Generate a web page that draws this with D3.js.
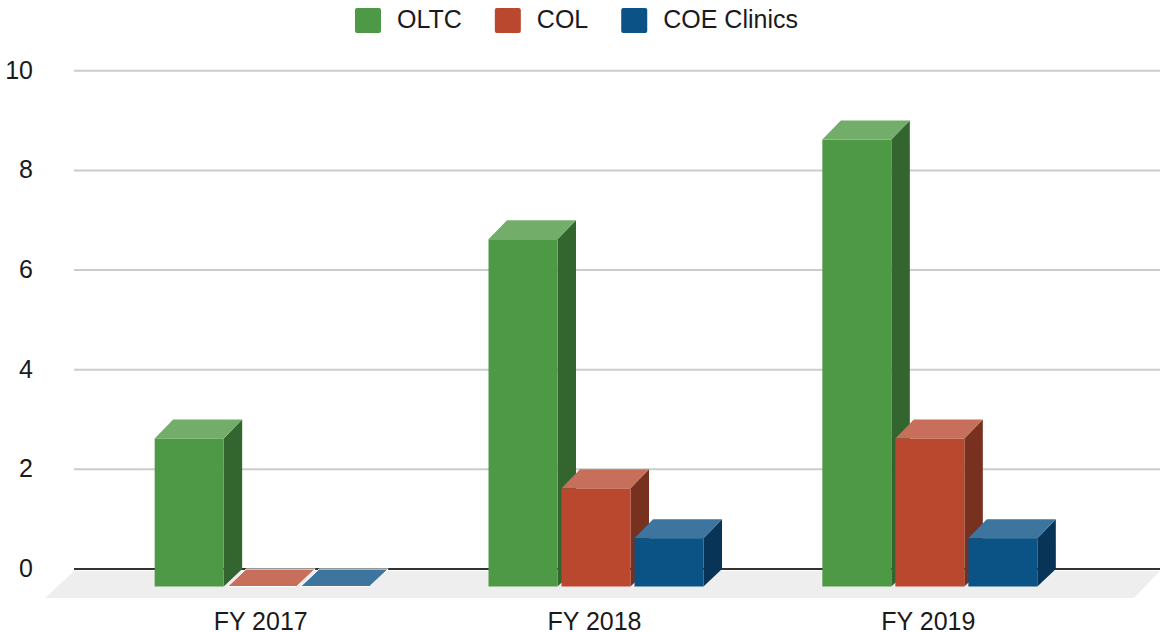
<!DOCTYPE html>
<html>
<head>
<meta charset="utf-8">
<script src="https://cdn.jsdelivr.net/npm/d3@7"></script>
<style>
html, body { margin: 0; padding: 0; background: #fff; }
text { font-family: "Liberation Sans", Arial, sans-serif; font-size: 25px; fill: #1a1a1a; }
</style>
</head>
<body>
<div id="chart"></div>
<script>
var categories = ["FY 2017", "FY 2018", "FY 2019"];
var seriesNames = ["OLTC", "COL", "COE Clinics"];
var oltcValues = [3, 7, 9];
var colValues = [0, 2, 3];
var coeValues = [0, 1, 1];
var yTicks = [0, 2, 4, 6, 8, 10];

var width = 1160,
    height = 632;

var seriesValues = [oltcValues, colValues, coeValues];

// front, top and side face of each series
var frontColors = ["#4e9946", "#b9482f", "#0b5285"];
var topColors = ["#72ae6a", "#c76f5a", "#3e759f"];
var sideColors = ["#32662e", "#78301f", "#083457"];

var svg = d3.select("#chart").append("svg")
    .attr("width", width)
    .attr("height", height)
    .style("display", "block");

// Domain Scale
var yScale = d3.scaleLinear()
    .domain([0, 10])
    .range([569, 70.8]);

var xScale = d3.scaleBand()
    .domain(categories)
    .range([95.25, 1096.75]);

var barGroupWidth = 215;

var xSub = d3.scaleBand()
    .domain(seriesNames)
    .range([0, barGroupWidth])
    .paddingInner(4 / 73);

// 3d offsets
var depthX = 18.5,
    depthY = 19,
    baseY = yScale(0) + 17.5;

// floor under the bars
svg.append("polygon")
    .attr("points", [[74, 571], [1160, 571], [1134, 598], [45, 598]].join(" "))
    .attr("fill", "#eeeeee");

// y axis and gridlines
var yAxis = d3.axisLeft(yScale)
    .tickValues(yTicks)
    .tickSize(-1086)
    .tickPadding(41)
    .offset(0);

var yAxisGroup = svg.append("g")
    .attr("transform", "translate(74,0)")
    .call(yAxis);

yAxisGroup.select(".domain").remove();
yAxisGroup.selectAll(".tick line")
    .attr("stroke", function (d) { return d === 0 ? "#333333" : "#cccccc"; })
    .attr("stroke-width", 2);
yAxisGroup.selectAll(".tick text")
    .style("font-size", "25px")
    .style("font-family", '"Liberation Sans", Arial, sans-serif');

// x axis labels
var xAxis = d3.axisBottom(xScale)
    .tickSize(0)
    .tickPadding(14)
    .offset(0);

var xAxisGroup = svg.append("g")
    .attr("transform", "translate(-1.5,598)")
    .call(xAxis);

xAxisGroup.select(".domain").remove();
xAxisGroup.selectAll(".tick text")
    .style("font-size", "25px")
    .style("font-family", '"Liberation Sans", Arial, sans-serif');

// bars, drawn left to right so the next front covers the last side
var polyLine = d3.line();

categories.forEach(function (cat, c) {
    var groupX = xScale(cat) + (xScale.bandwidth() - barGroupWidth) / 2;

    seriesNames.forEach(function (name, s) {
        var v = seriesValues[s][c];
        var x0 = groupX + xSub(name),
            x1 = x0 + xSub.bandwidth(),
            backTop = yScale(v),
            frontTop = Math.min(backTop + depthY, baseY);

        var bar = svg.append("g").attr("class", "bar");

        if (v > 0) {
            bar.append("path")
                .attr("d", polyLine([[x1, frontTop], [x1 + depthX, backTop], [x1 + depthX, yScale(0)], [x1, baseY]]) + "Z")
                .attr("fill", sideColors[s]);
        }

        bar.append("path")
            .attr("d", polyLine([[x0, frontTop], [x0 + depthX, backTop], [x1 + depthX, backTop], [x1, frontTop]]) + "Z")
            .attr("fill", topColors[s])
            .attr("stroke", v > 0 ? "none" : "#ffffff")
            .attr("stroke-width", 1);

        if (v > 0) {
            bar.append("rect")
                .attr("x", x0)
                .attr("y", frontTop)
                .attr("width", x1 - x0)
                .attr("height", baseY - frontTop)
                .attr("fill", frontColors[s]);
        }
    });
});

// legend, spaced by the text widths
var legendX = 355;

seriesNames.forEach(function (name, s) {
    var item = svg.append("g").attr("transform", "translate(" + legendX + ",0)");

    item.append("rect")
        .attr("y", 8)
        .attr("width", 26)
        .attr("height", 25)
        .attr("rx", 2)
        .attr("fill", frontColors[s]);

    var label = item.append("text")
        .attr("x", 42)
        .attr("y", 28)
        .text(name);

    legendX += 42 + label.node().getComputedTextLength() + 33;
});
</script>
</body>
</html>
